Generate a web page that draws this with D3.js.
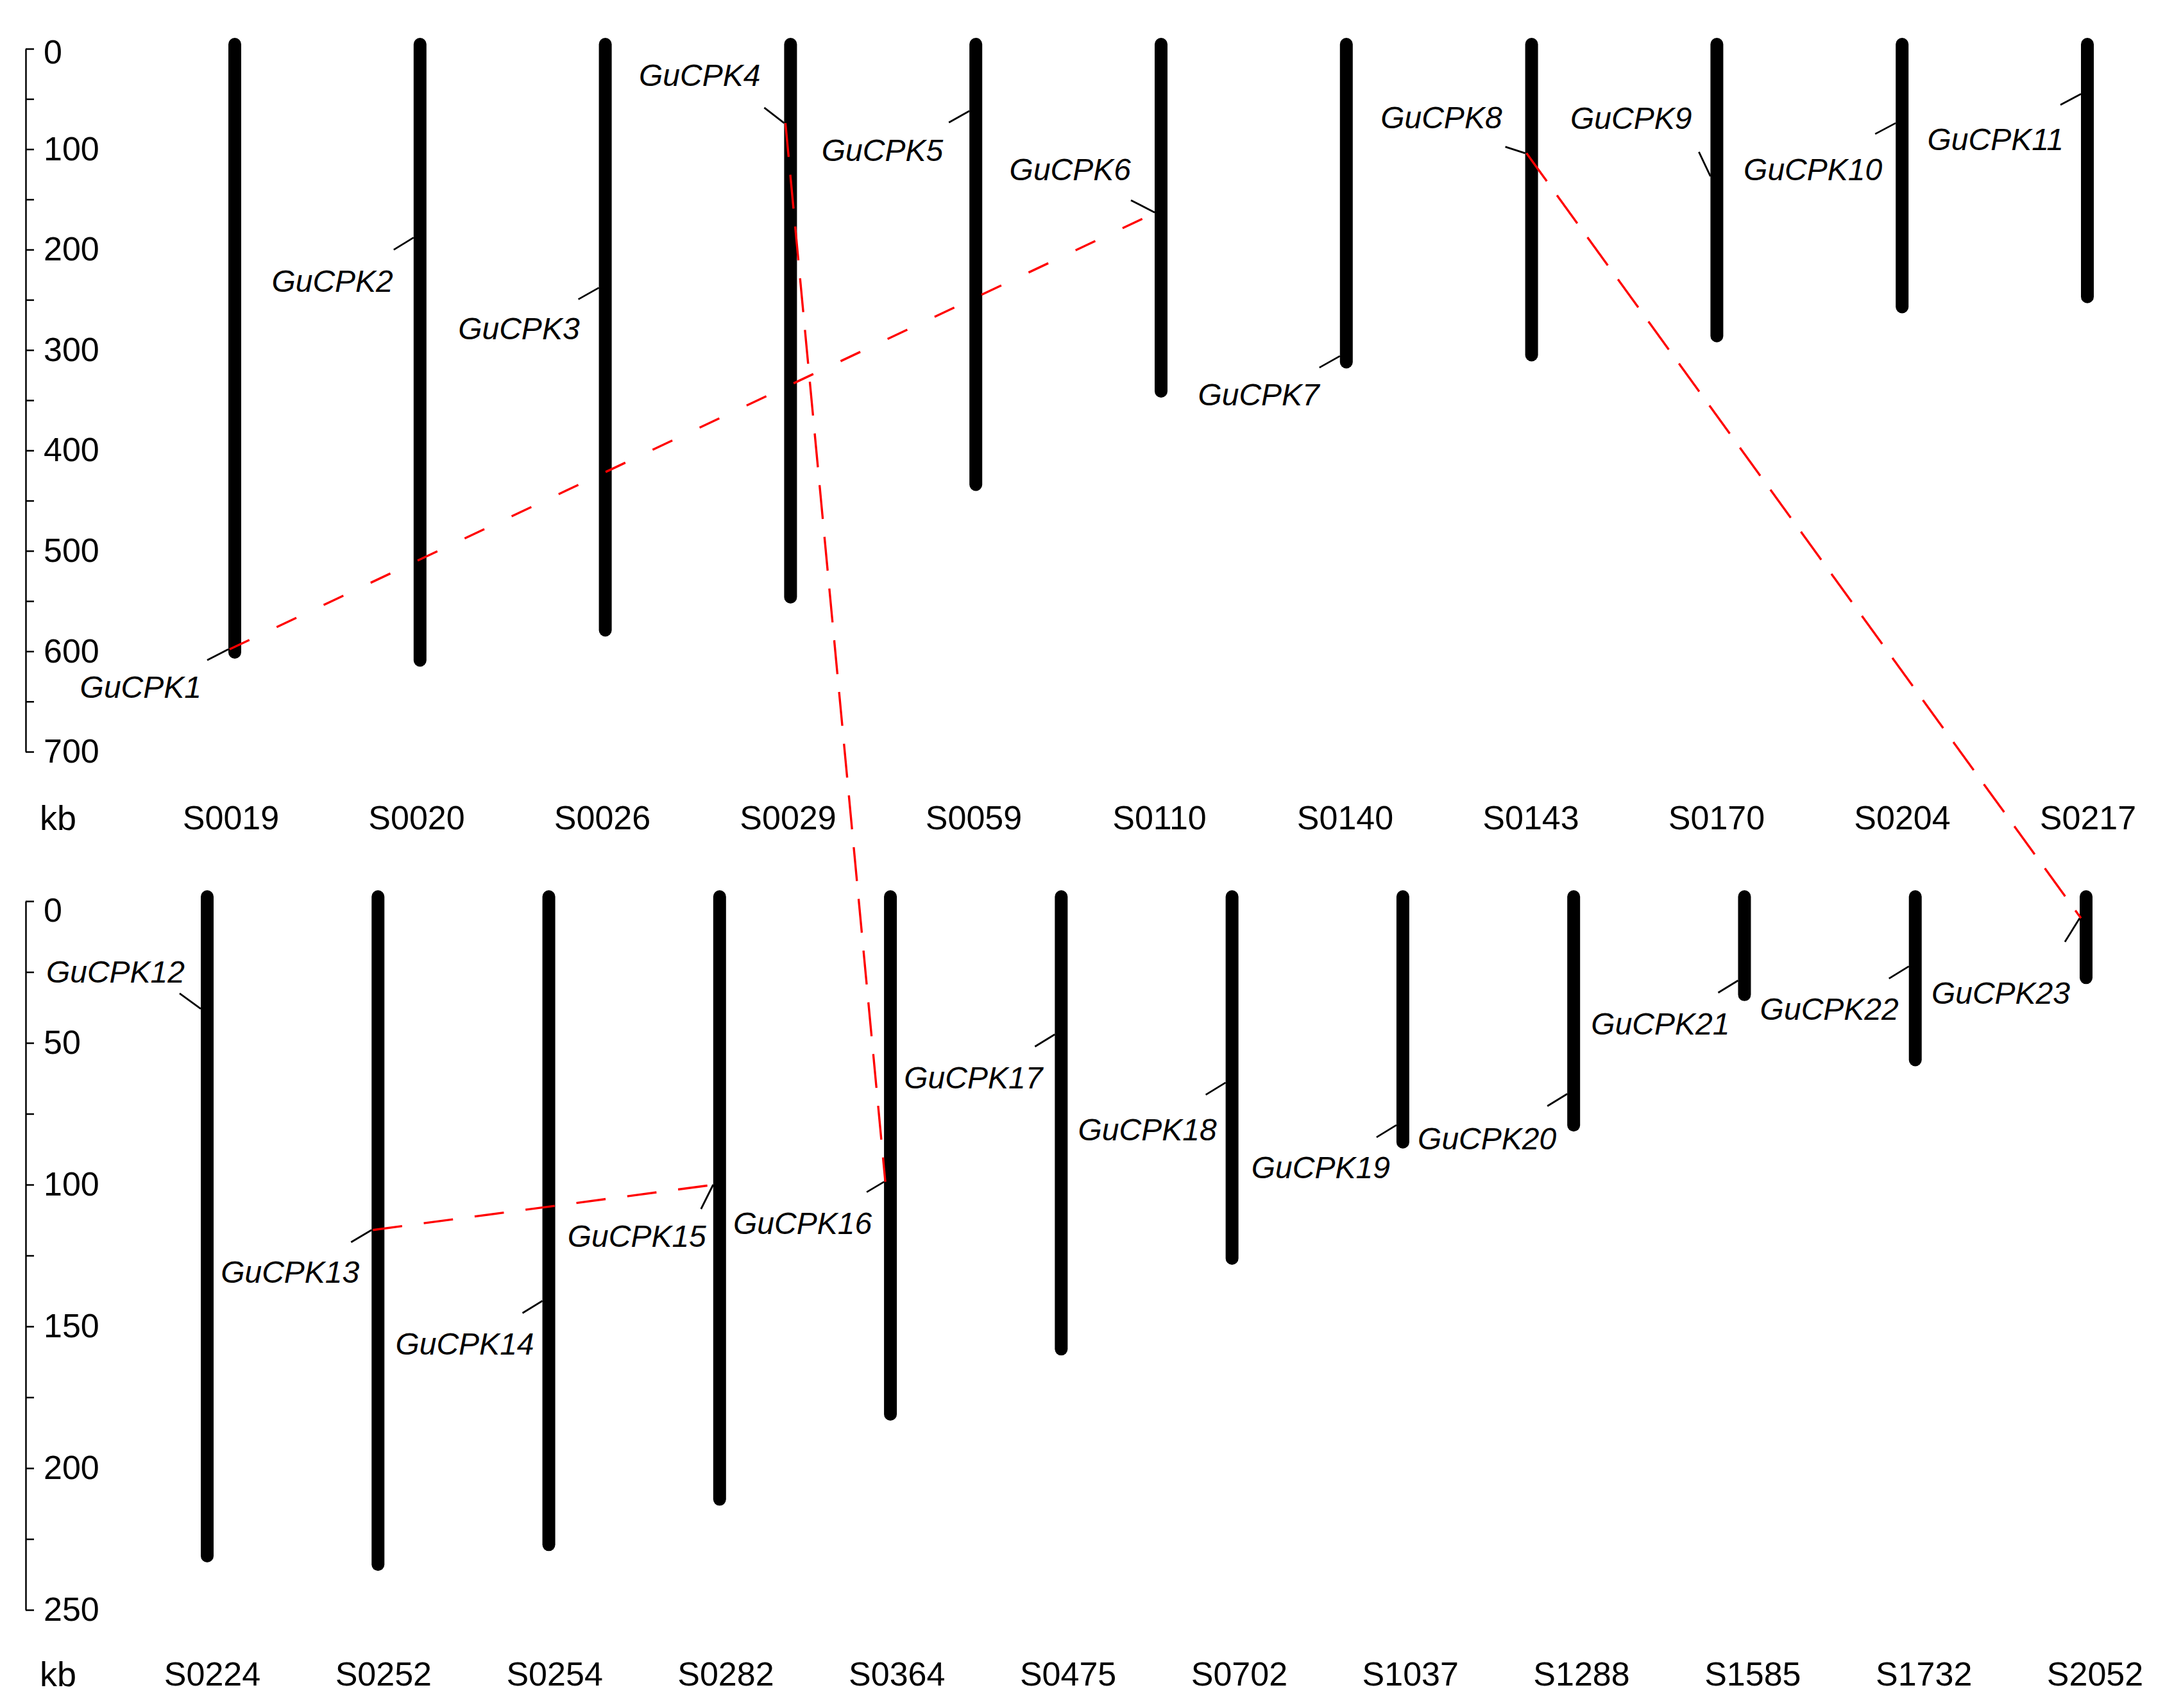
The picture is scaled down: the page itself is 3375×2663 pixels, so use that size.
<!DOCTYPE html>
<html>
<head>
<meta charset="utf-8">
<script src="https://cdn.jsdelivr.net/npm/d3@7/dist/d3.min.js"></script>
<style>
  html, body { margin: 0; padding: 0; background: #fff; }
  svg { display: block; }
</style>
</head>
<body>
<svg id="chart" width="3375" height="2663"></svg>
<script>
// ---------------- DATA ----------------
const topChroms  = ["S0019","S0020","S0026","S0029","S0059","S0110","S0140","S0143","S0170","S0204","S0217"];
const topLengths = [601, 609, 579, 546, 434, 341, 312, 305, 286, 257, 247];   // kb
const botChroms  = ["S0224","S0252","S0254","S0282","S0364","S0475","S0702","S1037","S1288","S1585","S1732","S2052"];
const botLengths = [231, 234, 227, 211, 181, 158, 126, 85, 79, 33, 56, 27];  // kb

const geneNames = ["GuCPK1","GuCPK2","GuCPK3","GuCPK4","GuCPK5","GuCPK6","GuCPK7","GuCPK8","GuCPK9","GuCPK10","GuCPK11",
                   "GuCPK12","GuCPK13","GuCPK14","GuCPK15","GuCPK16","GuCPK17","GuCPK18","GuCPK19","GuCPK20","GuCPK21","GuCPK22","GuCPK23"];
const geneChroms = ["S0019","S0020","S0026","S0029","S0059","S0110","S0140","S0143","S0170","S0204","S0217",
                    "S0224","S0252","S0254","S0282","S0364","S0475","S0702","S1037","S1288","S1585","S1732","S2052"];
const genePositions = [598, 188, 238, 74, 62, 163, 306, 104, 127, 74, 45,
                       38, 116, 141, 100, 99, 47, 64, 79, 68, 28, 23, 6];   // kb

const linkFrom = ["GuCPK1","GuCPK4","GuCPK8","GuCPK13"];
const linkTo   = ["GuCPK6","GuCPK16","GuCPK23","GuCPK15"];

const topTicks = d3.range(0, 701, 50);
const botTicks = d3.range(0, 251, 25);
const axisUnit = "kb";

// ---------------- LAYOUT / STYLE ----------------
// leader line vector [dx, dy] and label anchor [dx, dy(center)] relative to leader end
const leaderVec = [[-33,17],[-31,19],[-32,18],[-31,-24],[-32,18],[-37,-19],[-32,18],[-31,-10],[-18,-38],[-32,17],[-32,17],
                   [-33,-24],[-32,19],[-31,19],[-19,38],[-27,16],[-31,19],[-31,19],[-31,19],[-31,19],[-31,19],[-31,19],[-23,37]];
const labelOff  = [[-9,42],[-1,49],[2,46],[-6,-51],[-9,43],[0,-48],[0,42],[-5,-46],[-11,-53],[11,55],[5,54],
                   [8,-34],[13,46],[18,48],[8,42],[8,49],[12,48],[17,54],[21,47],[14,51],[18,48],[15,48],[8,80]];
const linkDash  = ["34,47","53,28","54,27","46,34"];

const FONT = "'Liberation Sans', Arial, Helvetica, sans-serif";
const svg = d3.select("#chart");
svg.append("rect").attr("width", 3375).attr("height", 2663).attr("fill", "#fff");

const yTop = d3.scaleLinear().domain([0, 700]).range([76, 1172]);
const yBot = d3.scaleLinear().domain([0, 250]).range([1405, 2510]);
const xTop = d3.scalePoint().domain(topChroms).range([366, 3254]);
const xBot = d3.scalePoint().domain(botChroms).range([323, 3252]);
const xTopLab = d3.scalePoint().domain(topChroms).range([360, 3255]);
const xBotLab = d3.scalePoint().domain(botChroms).range([331, 3266]);

const panels = [
  {chroms: topChroms, lengths: topLengths, x: xTop, xl: xTopLab, y: yTop, ticks: topTicks, labelStep: 100, labelY: 1275, zeroShift: 6},
  {chroms: botChroms, lengths: botLengths, x: xBot, xl: xBotLab, y: yBot, ticks: botTicks, labelStep: 50, labelY: 2610, zeroShift: 15}
];

function panelOf(chrom) { return topChroms.includes(chrom) ? panels[0] : panels[1]; }

panels.forEach(p => {
  // axis
  const ax = d3.axisRight(p.y)
    .tickValues(p.ticks)
    .tickSize(13)
    .tickSizeOuter(0)
    .tickPadding(15)
    .tickFormat(d => d % p.labelStep === 0 ? d : "");
  const g = svg.append("g").attr("transform", "translate(40,0)").call(ax);
  g.select(".domain").attr("stroke", "#000").attr("stroke-width", 2.5);
  g.selectAll(".tick line").attr("stroke", "#000").attr("stroke-width", 2.5);
  g.selectAll(".tick text").attr("font-family", FONT).attr("font-size", 52).attr("fill", "#000")
    .attr("y", d => d === 0 ? p.zeroShift : 0);

  // unit label
  svg.append("text").attr("x", 62).attr("y", p.labelY).attr("dy", "0.35em")
    .attr("font-family", FONT).attr("font-size", 54).text(axisUnit);

  // chromosomes
  const data = p.chroms.map((c, i) => ({name: c, len: p.lengths[i]}));
  svg.append("g").selectAll("line").data(data).join("line")
    .attr("x1", d => p.x(d.name)).attr("x2", d => p.x(d.name))
    .attr("y1", d => p.y(0) - 7).attr("y2", d => p.y(d.len))
    .attr("stroke", "#000").attr("stroke-width", 20).attr("stroke-linecap", "round");

  // chromosome names
  svg.append("g").selectAll("text").data(data).join("text")
    .attr("x", d => p.xl(d.name)).attr("y", p.labelY).attr("dy", "0.35em")
    .attr("text-anchor", "middle").attr("font-family", FONT).attr("font-size", 52)
    .text(d => d.name);
});

// genes
const genes = geneNames.map((n, i) => {
  const p = panelOf(geneChroms[i]);
  const x0 = p.x(geneChroms[i]) - 10;
  const y0 = p.y(genePositions[i]);
  const x1 = x0 + leaderVec[i][0], y1 = y0 + leaderVec[i][1];
  return {name: n, x0, y0, x1, y1, tx: x1 + labelOff[i][0], ty: y1 + labelOff[i][1], lx: p.x(geneChroms[i]) - 8};
});
const geneByName = new Map(genes.map(g => [g.name, g]));

svg.append("g").selectAll("line").data(genes).join("line")
  .attr("x1", d => d.x0).attr("y1", d => d.y0).attr("x2", d => d.x1).attr("y2", d => d.y1)
  .attr("stroke", "#000").attr("stroke-width", 2.8);

svg.append("g").selectAll("text").data(genes).join("text")
  .attr("x", d => d.tx).attr("y", d => d.ty).attr("dy", "0.35em")
  .attr("text-anchor", "end").attr("font-family", FONT).attr("font-size", 48)
  .attr("font-style", "italic").text(d => d.name);

// links
const links = linkFrom.map((f, i) => ({a: geneByName.get(f), b: geneByName.get(linkTo[i]), dash: linkDash[i]}));
svg.append("g").selectAll("line").data(links).join("line")
  .attr("x1", d => d.a.lx).attr("y1", d => d.a.y0)
  .attr("x2", d => d.b.lx).attr("y2", d => d.b.y0)
  .attr("stroke", "#ff0000").attr("stroke-width", 3.4)
  .attr("stroke-dasharray", d => d.dash);
</script>
</body>
</html>
